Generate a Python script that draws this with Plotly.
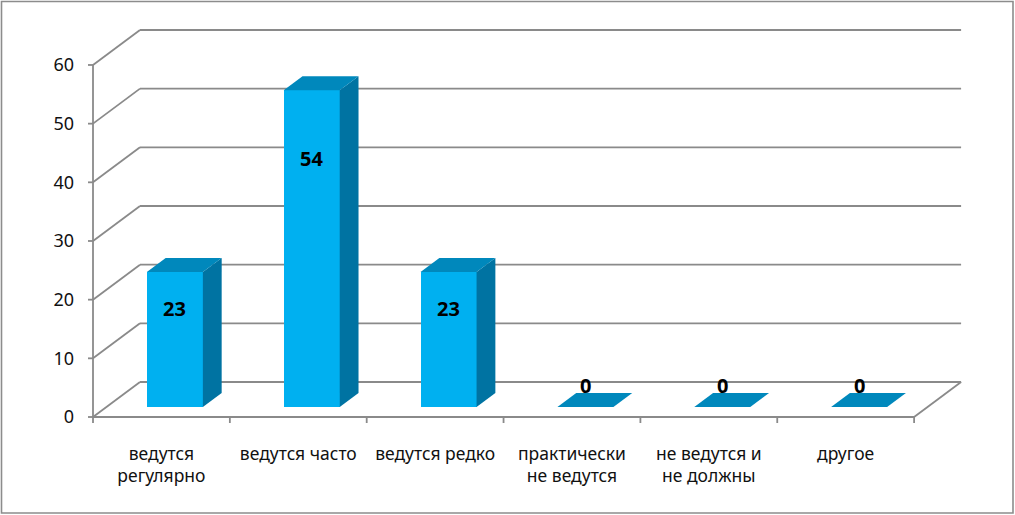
import plotly.graph_objects as go

categories = ["ведутся<br>регулярно", "ведутся часто", "ведутся редко",
              "практически<br>не ведутся", "не ведутся и<br>не должны", "другое"]
values = [23, 54, 23, 0, 0, 0]
y_ticks = [0, 10, 20, 30, 40, 50, 60]

# geometry (data units)
W, H = 1015, 515
ML, MR, MT, MB = 84, 45, 25, 85
PX_X = 136.85   # px per category
PX_Y = 5.867    # px per value unit
X0 = -0.5 - 9 / PX_X
X1 = X0 + (W - ML - MR) / PX_X
Y1 = (417 - MT) / PX_Y
Y0 = Y1 - (H - MT - MB) / PX_Y

DX, DY = 47 / PX_X, 35 / PX_Y           # full depth offset
F0, FD = 0.286, 0.40                    # bar start depth, bar depth (fractions)
BAR_W = 56 / PX_X
bx, by = DX * F0, DY * F0               # bar front offset
ddx, ddy = DX * FD, DY * FD             # bar depth offset
n = len(categories)
grid = "#8a8a8a"

shapes = []
def line(x0, y0, x1, y1, w=1.8, c=grid):
    shapes.append(dict(type="line", xref="x", yref="y", x0=x0, y0=y0, x1=x1, y1=y1,
                       line=dict(color=c, width=w), layer="below"))

left, right = -0.5, n - 0.5
for v in y_ticks:
    line(left, v, left + DX, v + DY)
    line(left + DX, v + DY, right + DX, v + DY)
    line(left - 5 / PX_X, v, left, v)
line(left, 0, right, 0)
line(right, 0, right + DX, DY)
line(left, 0, left, y_ticks[-1])
for k in range(n + 1):
    line(k - 0.5, 0, k - 0.5, -6 / PX_Y)

# outer border in paper coords
pw, ph = W - ML - MR, H - MT - MB
shapes.append(dict(type="rect", xref="paper", yref="paper",
                   x0=(1.5 - ML) / pw, x1=(1013 - ML) / pw,
                   y0=(H - MB - 513) / ph, y1=(H - MB - 1.5) / ph,
                   line=dict(color="#8c8c8c", width=1.6), fillcolor="rgba(0,0,0,0)"))

fig = go.Figure()
xs = list(range(n))
fig.add_trace(go.Bar(x=xs, y=values, base=[by] * n, width=BAR_W, offset=bx - BAR_W / 2,
                     marker=dict(color="#00B0F0", line=dict(width=0)), hoverinfo="skip", showlegend=False))

for i, v in enumerate(values):
    fl = i + bx - BAR_W / 2
    fr = fl + BAR_W
    top = by + v
    bot = by
    if v > 0:
        fig.add_trace(go.Scatter(x=[fr, fr + ddx, fr + ddx, fr, fr], y=[bot, bot + ddy, top + ddy, top, bot],
                                 fill="toself", fillcolor="#0073A2", mode="lines", line=dict(width=0),
                                 hoverinfo="skip", showlegend=False))
    fig.add_trace(go.Scatter(x=[fl, fr, fr + ddx, fl + ddx, fl], y=[top, top, top + ddy, top + ddy, top],
                             fill="toself", fillcolor="#0088BC", mode="lines", line=dict(width=0),
                             hoverinfo="skip", showlegend=False))
    ly = max(0.823 * v - 0.35, by + ddy + 1.35)
    fig.add_annotation(x=(fl + fr) / 2, y=ly, text=f"<b>{v}</b>", showarrow=False,
                       font=dict(family="Noto Sans", size=20, color="#000000"))

fig.update_layout(
    width=W, height=H, margin=dict(l=ML, r=MR, t=MT, b=MB),
    paper_bgcolor="white", plot_bgcolor="white", shapes=shapes, bargap=0,
    font=dict(family="Noto Sans", color="#000000"),
)
fig.update_xaxes(range=[X0, X1], tickvals=xs, ticktext=categories, showgrid=False, zeroline=False,
                 showline=False, ticks="", tickfont=dict(size=17.5, color="#111111"), ticklabelstandoff=11)
fig.update_yaxes(range=[Y0, Y1], tickvals=y_ticks, showgrid=False, zeroline=False, showline=False,
                 ticks="", tickfont=dict(size=18, color="#111111"), ticklabelstandoff=9)

fig.write_html("out.html", config={"displayModeBar": False},
               post_script="document.body.style.margin='0';")
